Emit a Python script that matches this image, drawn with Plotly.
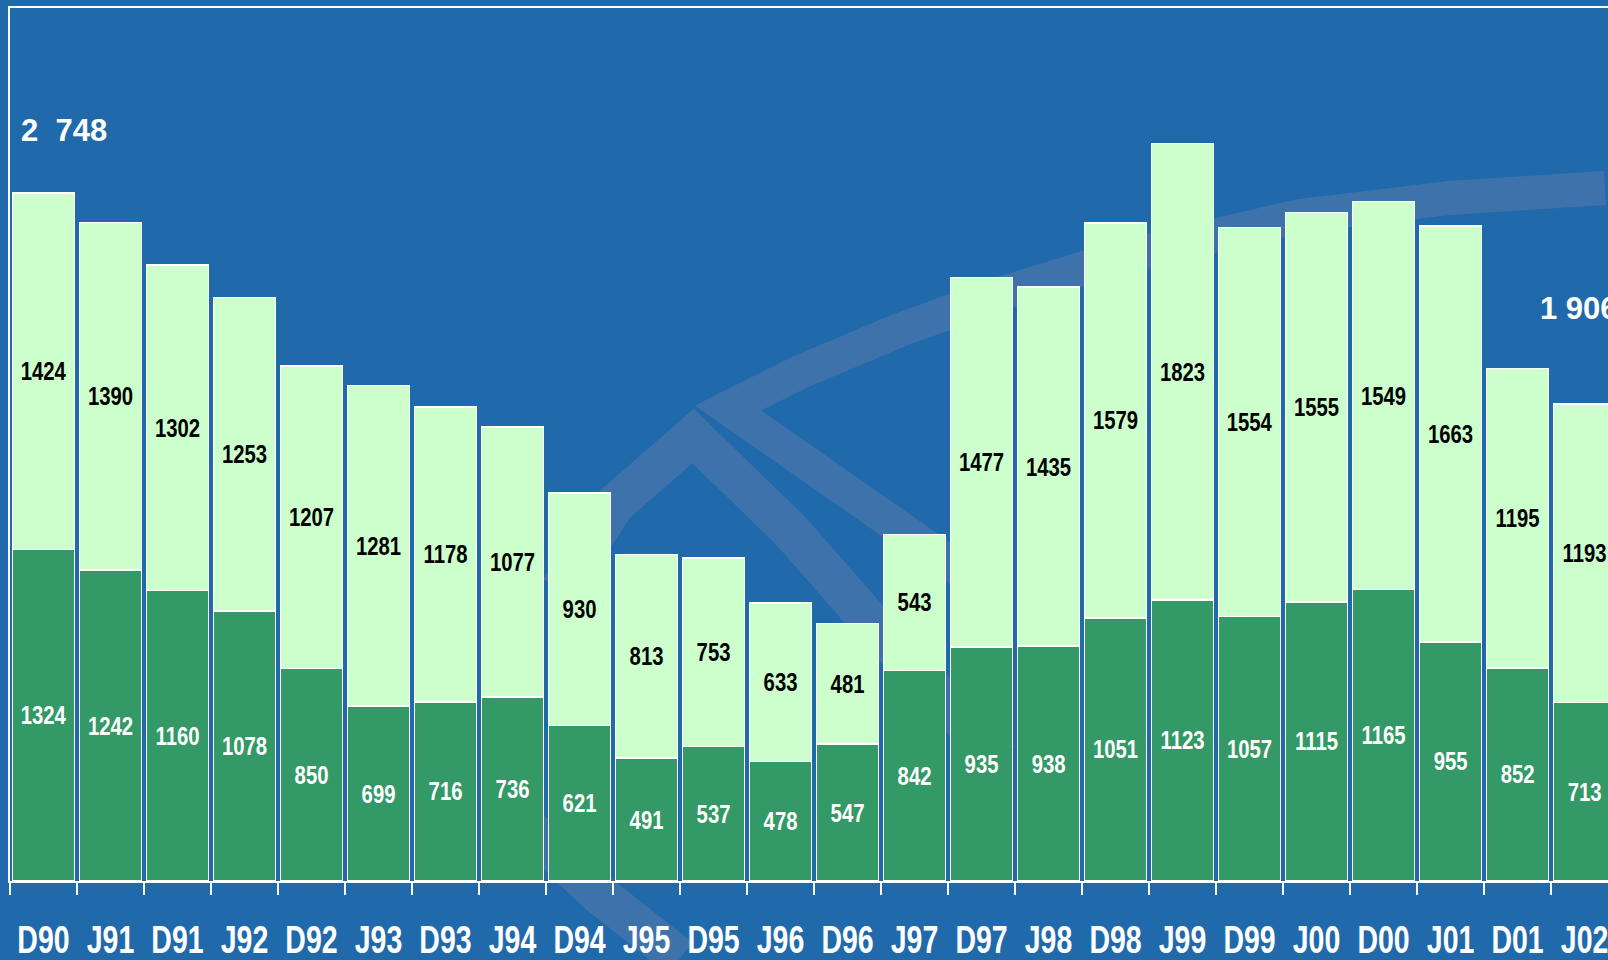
import plotly.graph_objects as go

# ---- data ----
categories = ["D90", "J91", "D91", "J92", "D92", "J93", "D93", "J94", "D94", "J95",
              "D95", "J96", "D96", "J97", "D97", "J98", "D98", "J99", "D99", "J00",
              "D00", "J01", "D01", "J02"]
bottom_values = [1324, 1242, 1160, 1078, 850, 699, 716, 736, 621, 491,
                 537, 478, 547, 842, 935, 938, 1051, 1123, 1057, 1115,
                 1165, 955, 852, 713]
top_values = [1424, 1390, 1302, 1253, 1207, 1281, 1178, 1077, 930, 813,
              753, 633, 481, 543, 1477, 1435, 1579, 1823, 1554, 1555,
              1549, 1663, 1195, 1193]
total_labels = ["2\u00a0\u00a0748", "1\u00a0906"]

# ---- style ----
BG = "#206AAC"
DARK = "#339966"
LIGHT = "#CCFFCC"
FONT = "Liberation Sans, Arial, sans-serif"
W, H = 1608, 960
ML, MR, MT, MB = 10, 0, 8, 79
PW, PH = W - ML - MR, H - MT - MB
XR = [-0.5, 23.35]
YR = [0, 3488]


def px(x):
    return (x - ML) / PW


def py(y):
    return (H - MB - y) / PH


def dx(x):  # pixel -> category-axis coordinate
    return XR[0] + (x - ML) / PW * (XR[1] - XR[0])


def dy(y):  # pixel -> value-axis coordinate
    return YR[0] + (H - MB - y) / PH * (YR[1] - YR[0])


def path(points):
    return "M" + " L".join(f"{px(a):.4f},{py(b):.4f}" for a, b in points)


fig = go.Figure()
fig.add_trace(go.Bar(
    x=categories, y=bottom_values, name="bottom",
    marker=dict(color=DARK, line=dict(color="white", width=1.5)),
    text=[str(v) for v in bottom_values], textposition="inside",
    insidetextanchor="middle", textangle=0, constraintext="none",
    textfont=dict(color="white", size=26, family=FONT, weight="bold"),
))
fig.add_trace(go.Bar(
    x=categories, y=top_values, name="top",
    marker=dict(color=LIGHT, line=dict(color="white", width=1.5)),
    text=[str(v) for v in top_values], textposition="inside",
    insidetextanchor="middle", textangle=0, constraintext="none",
    textfont=dict(color="black", size=26, family=FONT, weight="bold"),
))

deco = dict(color="rgba(150,140,170,0.26)")
shapes = [
    dict(type="path", xref="paper", yref="paper", layer="below",
         path=path([(560, 590), (614, 505), (693, 436), (790, 530), (876, 628), (1000, 760)]),
         line=dict(width=40, **deco)),
    dict(type="path", xref="paper", yref="paper", layer="below",
         path=path([(960, 570), (728, 408), (800, 372), (900, 330), (1000, 294),
                    (1110, 260), (1300, 216), (1450, 198), (1605, 188)]),
         line=dict(width=34, **deco)),
    dict(type="path", xref="paper", yref="paper", layer="below",
         path=path([(520, 820), (600, 895), (680, 958)]),
         line=dict(width=40, **deco)),
]

fig.update_layout(
    width=W, height=H, autosize=False,
    margin=dict(l=ML, r=MR, t=MT, b=MB, pad=0, autoexpand=False),
    paper_bgcolor=BG, plot_bgcolor="rgba(0,0,0,0)",
    barmode="stack", bargap=0.07, showlegend=False,
    shapes=shapes,
    xaxis=dict(type="category", range=XR, tickson="boundaries", automargin=False,
               ticks="outside", ticklen=12, tickwidth=2, tickcolor="white",
               showline=True, linecolor="white", linewidth=2, mirror=True,
               showgrid=False, zeroline=False, tickangle=0, ticklabelstandoff=24,
               tickfont=dict(color="white", size=38, family=FONT, weight="bold")),
    yaxis=dict(range=YR, showline=True, linecolor="white", linewidth=2, automargin=False,
               showticklabels=False, ticks="", showgrid=False, zeroline=False),
    annotations=[
        dict(text=total_labels[0], xref="x", yref="y", x=dx(19), y=dy(130),
             xanchor="left", yanchor="middle", showarrow=False,
             font=dict(color="white", size=31, family=FONT, weight="bold")),
        dict(text=total_labels[1], xref="x", yref="y", x=dx(1538), y=dy(308),
             xanchor="left", yanchor="middle", showarrow=False,
             font=dict(color="white", size=31, family=FONT, weight="bold")),
    ],
)

# page margin reset + condensed look for the narrow labels (text stays real text)
post_script = """
document.body.style.margin = '0';
document.body.style.overflow = 'hidden';
var gd = document.getElementById('{plot_id}');
function squeeze(sel, f) {
  gd.querySelectorAll(sel).forEach(function (t) {
    if (t.getAttribute('lengthAdjust')) return;
    var w = t.getComputedTextLength();
    if (w > 0) {
      t.setAttribute('textLength', (w * f).toFixed(2));
      t.setAttribute('lengthAdjust', 'spacingAndGlyphs');
    }
  });
}
squeeze('text.bartext', 0.78);
squeeze('g.xtick text', 0.75);
"""

fig.write_html("out.html", post_script=post_script,
               config={"displayModeBar": False, "responsive": False})
